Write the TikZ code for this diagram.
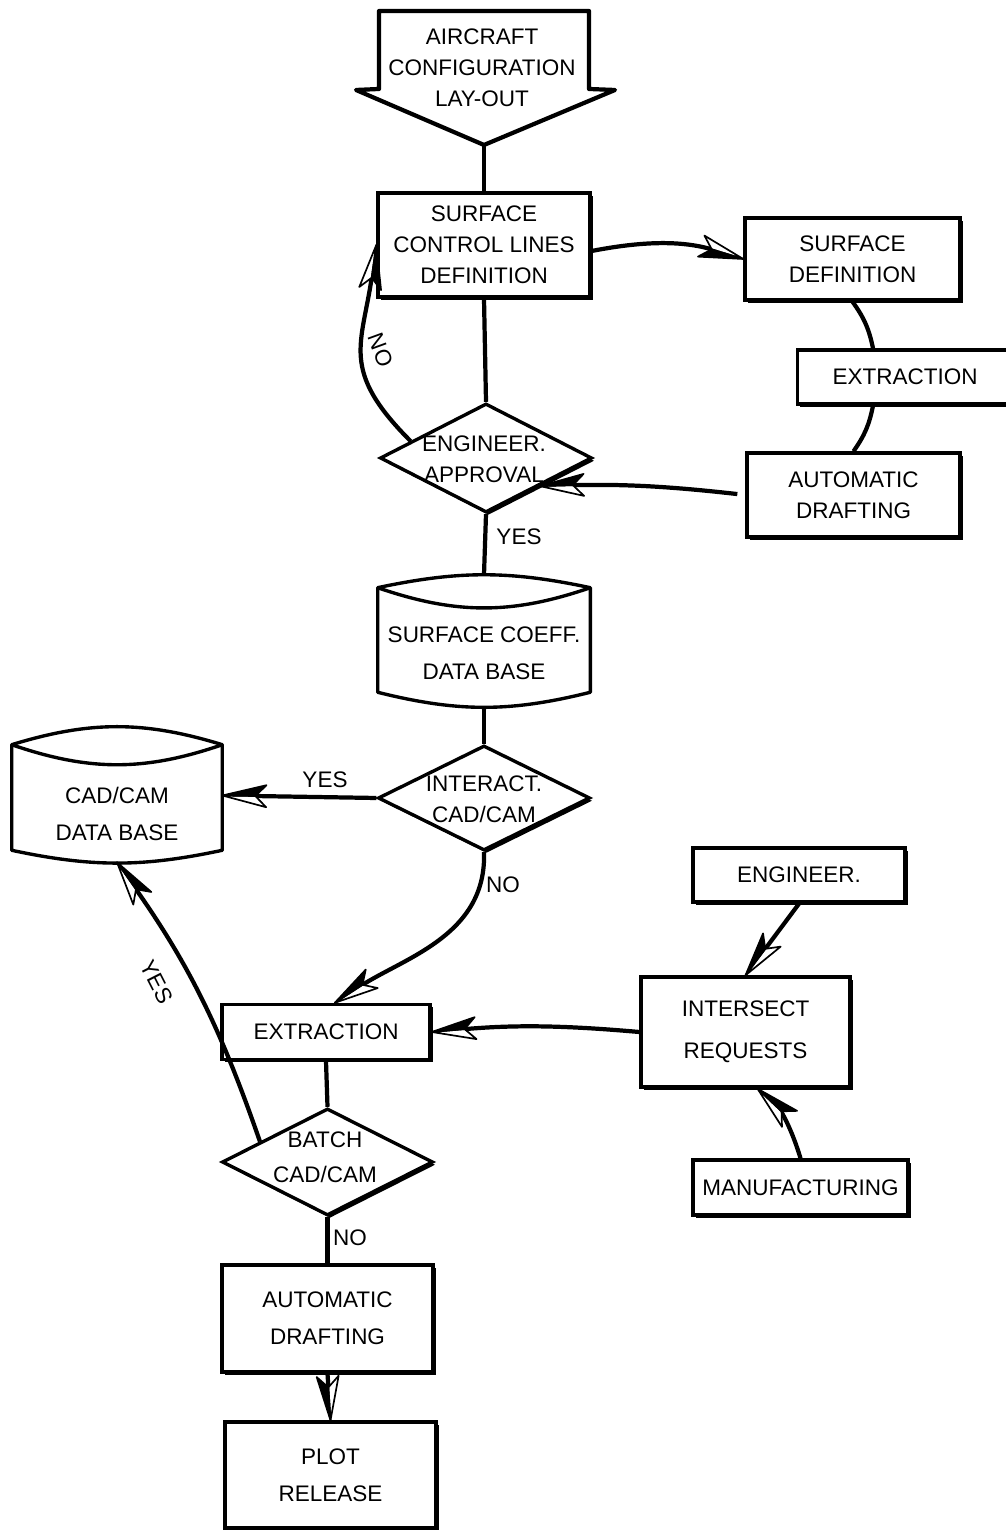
\documentclass[tikz,border=0pt]{standalone}
\usepackage{fontspec}
\setmainfont{Liberation Sans}
\usetikzlibrary{shapes.geometric,shadows,calc,arrows.meta}

% split arrow head: one half open, one half filled
\pgfdeclarearrow{
  name = Halved,
  parameters = {\the\pgfarrowlength,\the\pgfarrowwidth},
  setup code = {
    \pgfarrowssettipend{0pt}
    \pgfarrowssetlineend{-.7\pgfarrowlength}
    \pgfarrowssetbackend{-\pgfarrowlength}
    \pgfarrowshullpoint{0pt}{0pt}
    \pgfarrowsupperhullpoint{-\pgfarrowlength}{.5\pgfarrowwidth}
    \pgfarrowssavethe\pgfarrowlength
    \pgfarrowssavethe\pgfarrowwidth
  },
  drawing code = {
    \pgfsetlinewidth{1.2pt}
    \pgfsetroundjoin
    \pgfpathmoveto{\pgfpointorigin}
    \pgfpathlineto{\pgfpoint{-\pgfarrowlength}{.5\pgfarrowwidth}}
    \pgfpathlineto{\pgfpoint{-.75\pgfarrowlength}{0pt}}
    \pgfpathclose
    \pgfsetfillcolor{white}
    \pgfusepathqfillstroke
    \pgfpathmoveto{\pgfpointorigin}
    \pgfpathlineto{\pgfpoint{-\pgfarrowlength}{-.5\pgfarrowwidth}}
    \pgfpathlineto{\pgfpoint{-.75\pgfarrowlength}{0pt}}
    \pgfpathclose
    \pgfsetfillcolor{black}
    \pgfusepathqfillstroke
  },
  defaults = {length = 11mm, width = 5.5mm}
}

\colorlet{paper}{white}
\tikzset{
  txt/.style={font=\fontsize{16}{22}\selectfont, align=center, inner sep=0pt},
  box/.style={txt, draw, line width=2.4pt, fill=paper,
    drop shadow={shadow xshift=1.8pt, shadow yshift=-2pt, opacity=1, fill=black}},
  dec/.style={box, diamond, inner sep=0pt},
  drum/.style={rectangle, inner sep=0pt},
  outline/.style={line width=2.4pt, line join=round},
  conn/.style={line width=3pt},
  flow/.style={conn, -{Halved}},
  lbl/.style={font=\fontsize{16}{22}\selectfont, inner sep=0pt},
}

\begin{document}
\begin{tikzpicture}[x=0.025cm, y=0.025cm]
  \useasboundingbox[fill=paper] (0,0) rectangle (1005,1530);

  % main column
  \draw[outline, line width=3pt, fill=paper] (379,1519) -- (589,1519) -- (589,1441) -- (615,1440)
    -- (484,1385) -- (356,1440) -- (379,1441) -- cycle;
  \node[txt] (layout) at (482,1462) {AIRCRAFT\\CONFIGURATION\\LAY-OUT};
  \coordinate (layouttip) at (484,1385);

  \node[box, minimum width=5.3cm, minimum height=2.6cm] (scld) at (484,1285)
    {SURFACE\\CONTROL LINES\\DEFINITION};
  \node[dec, minimum width=5.3cm, minimum height=2.725cm] (appr) at (486,1072) {};
  \node[txt] (apprtext) at (484,1071) {ENGINEER.\\APPROVAL};

  \node[drum, minimum width=5.3cm, minimum height=2.6cm] (sc) at (484,890) {};
  \draw[outline, fill=paper] (sc.north west) to[bend left=12] (sc.north east)
    -- (sc.south east) to[bend left=14] (sc.south west) -- cycle;
  \draw[outline] (sc.north west) to[bend right=19] (sc.north east);
  \node[txt] (sctext) at (484,877) {SURFACE COEFF.\\[4pt]DATA BASE};

  \node[dec, minimum width=5.3cm, minimum height=2.625cm] (inter) at (484,732) {};
  \node[txt] (intertext) at (484,731) {INTERACT.\\CAD/CAM};

  \node[drum, minimum width=5.25cm, minimum height=2.625cm] (cad) at (117,732.5) {};
  \draw[outline, fill=paper] (cad.north west) to[bend left=17] (cad.north east)
    -- (cad.south east) to[bend left=12] (cad.south west) -- cycle;
  \draw[outline] (cad.north west) to[bend right=19] (cad.north east);
  \node[txt] (cadtext) at (117,716) {CAD/CAM\\[4pt]DATA BASE};

  \node[box, minimum width=5.2cm, minimum height=1.375cm] (ext) at (326,498) {EXTRACTION};
  \node[dec, minimum width=5.275cm, minimum height=2.675cm] (batch) at (327.5,368) {};
  \node[txt] (batchtext) at (325,373) {BATCH\\[3pt]CAD/CAM};
  \node[box, minimum width=5.275cm, minimum height=2.675cm] (adl) at (327.5,211.5)
    {AUTOMATIC\\[4pt]DRAFTING};
  \node[box, minimum width=5.275cm, minimum height=2.65cm] (plot) at (330.5,55)
    {PLOT\\[4pt]RELEASE};

  % right column
  \node[box, minimum width=5.375cm, minimum height=2.05cm] (sd) at (852.5,1271)
    {SURFACE\\DEFINITION};
  \node[box, minimum width=5.375cm, minimum height=1.35cm] (ext2) at (905,1153) {EXTRACTION};
  \node[box, minimum width=5.325cm, minimum height=2.1cm] (adr) at (853.5,1035)
    {AUTOMATIC\\DRAFTING};
  \node[box, minimum width=5.3cm, minimum height=1.35cm] (eng) at (799,655) {ENGINEER.};
  \node[box, minimum width=5.225cm, minimum height=2.75cm] (isr) at (745.5,498)
    {INTERSECT\\[8pt]REQUESTS};
  \node[box, minimum width=5.375cm, minimum height=1.375cm] (mfg) at (800.5,342.5)
    {MANUFACTURING};

  % connectors
  \draw[conn] (layouttip) -- (scld.north);
  \draw[conn] (scld.south) -- (appr.north);
  \draw[flow] ([yshift=-0.15cm]scld.east) to[bend left=14] (sd.west);
  \draw[conn] (sd.south) to[bend left=12] ([xshift=-0.8cm]ext2.north);
  \draw[conn] ([xshift=-0.8cm]ext2.south) to[bend left=12] (adr.north);
  \draw[flow, shorten <=0.2cm] (adr.west) to[bend right=4] (appr.south east);
  \draw[flow] ($(appr.west)!0.3!(appr.north)$) to[out=135, in=262, looseness=1.3] (scld.west);
  \node[lbl, rotate=-70] (noA) at (381,1180) {NO};
  \draw[conn] (appr.south) -- ([yshift=0.33cm]sc.north);
  \node[lbl] (yesA) at (519,993) {YES};
  \draw[conn] ([yshift=-0.37cm]sc.south) -- (inter.north);
  \draw[flow] (inter.west) -- ([yshift=0.05cm]cad.east);
  \node[lbl] (yesB) at (325,750) {YES};
  \draw[flow] (inter.south) to[out=-88, in=33] ([xshift=0.22cm]ext.north);
  \node[lbl] (noB) at (503,645) {NO};
  \draw[flow] (eng.south) -- (isr.north);
  \draw[flow] (isr.west) to[bend right=5] (ext.east);
  \draw[flow] (mfg.north) to[bend right=15] ([xshift=0.3cm]isr.south);
  \draw[conn] (ext.south) -- (batch.north);
  \draw[flow] ($(batch.west)!0.37!(batch.north)$) to[bend right=8] ([yshift=-0.3cm]cad.south);
  \node[lbl, rotate=-63] (yesC) at (157,548) {YES};
  \draw[conn] (batch.south) -- (adl.north);
  \node[lbl] (noC) at (350,292) {NO};
  \draw[flow] (adl.south) -- (plot.north);
\end{tikzpicture}
\end{document}
